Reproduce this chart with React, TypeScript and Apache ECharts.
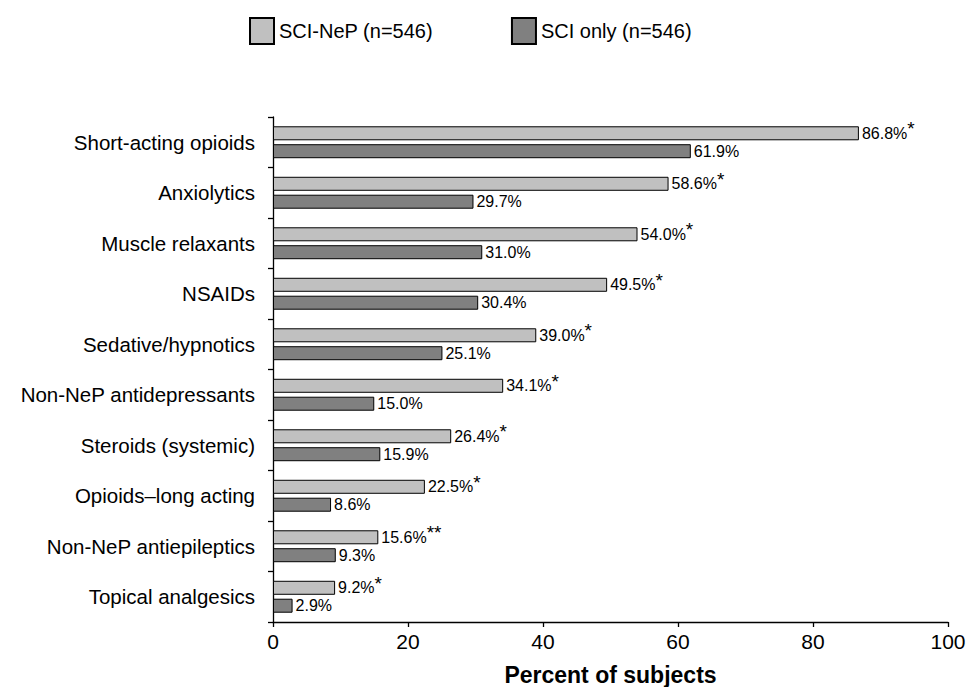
import React, { useEffect, useRef } from "react";
import * as echarts from "echarts";

const categories = [
  "Short-acting opioids",
  "Anxiolytics",
  "Muscle relaxants",
  "NSAIDs",
  "Sedative/hypnotics",
  "Non-NeP antidepressants",
  "Steroids (systemic)",
  "Opioids\u2013long acting",
  "Non-NeP antiepileptics",
  "Topical analgesics",
];
const sciNep = [86.8, 58.6, 54.0, 49.5, 39.0, 34.1, 26.4, 22.5, 15.6, 9.2];
const sciOnly = [61.9, 29.7, 31.0, 30.4, 25.1, 15.0, 15.9, 8.6, 9.3, 2.9];
const stars = ["*", "*", "*", "*", "*", "*", "*", "*", "**", "*"];
const seriesNames = ["SCI-NeP (n=546)", "SCI only (n=546)"];
const xTicks = [0, 20, 40, 60, 80, 100];

export default function App() {
  const ref = useRef<HTMLDivElement>(null);
  useEffect(() => {
    if (!ref.current) return;
    const chart = echarts.init(ref.current, null, { renderer: "svg" });
    const font = "'Liberation Sans', Arial, sans-serif";
    chart.setOption({
      animation: false,
      textStyle: { fontFamily: font, color: "#000" },
      legend: {
        left: 244,
        top: 12,
        icon: "rect",
        itemWidth: 24,
        itemHeight: 26,
        itemGap: 78,
        textStyle: { fontSize: 20, color: "#000", fontFamily: font },
        data: seriesNames,
      },
      grid: {
        left: 273,
        right: 20,
        top: 117,
        bottom: 65,
        containLabel: false,
        outerBoundsMode: "none",
      },
      xAxis: {
        type: "value",
        min: xTicks[0],
        max: xTicks[xTicks.length - 1],
        interval: 20,
        axisLine: { show: true, lineStyle: { color: "#000", width: 1.3 } },
        axisTick: { show: true, length: 5, lineStyle: { color: "#000", width: 1.3 } },
        axisLabel: { fontSize: 21, color: "#000", margin: 9, fontFamily: font },
        splitLine: { show: false },
        name: "Percent of subjects",
        nameLocation: "middle",
        nameGap: 41,
        nameTextStyle: { fontSize: 23, fontWeight: "bold", color: "#000", fontFamily: font },
      },
      yAxis: {
        type: "category",
        data: categories,
        inverse: true,
        axisLine: { show: true, lineStyle: { color: "#000", width: 1.3 } },
        axisTick: { show: true, length: 5, lineStyle: { color: "#000", width: 1.3 } },
        axisLabel: { fontSize: 20.5, color: "#000", margin: 18, fontFamily: font },
      },
      series: [
        {
          name: seriesNames[0],
          type: "bar",
          data: sciNep,
          barWidth: 14,
          barGap: "28%",
          itemStyle: { color: "#c0c0c0", borderColor: "#000", borderWidth: 1 },
          label: {
            show: true,
            position: "right",
            distance: 3,
            formatter: (p: any) => `{v|${p.value.toFixed(1)}%}{s|${stars[p.dataIndex]}}`,
            rich: {
              v: { fontSize: 16, color: "#000", fontFamily: font },
              s: { fontSize: 19, color: "#000", fontFamily: font, padding: [0, 0, 9, 0] },
            },
          },
        },
        {
          name: seriesNames[1],
          type: "bar",
          data: sciOnly,
          barWidth: 14,
          itemStyle: { color: "#808080", borderColor: "#000", borderWidth: 1 },
          label: {
            show: true,
            position: "right",
            distance: 3,
            formatter: (p: any) => `${p.value.toFixed(1)}%`,
            fontSize: 16,
            color: "#000",
            fontFamily: font,
          },
        },
      ],
    });
    return () => chart.dispose();
  }, []);
  return (
    <div
      ref={ref}
      style={{ position: "fixed", left: 0, top: 0, width: 968, height: 687, background: "#fff" }}
    />
  );
}
